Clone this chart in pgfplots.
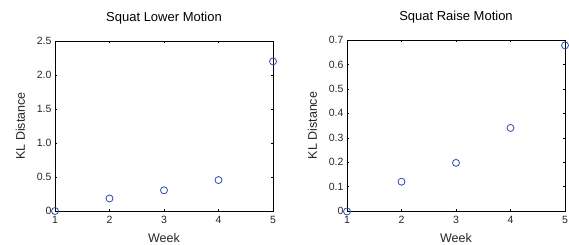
\documentclass[border=0pt]{standalone}
\usepackage{pgfplots}
\pgfplotsset{compat=1.18}
\usepackage{fontspec}
\setmainfont{Liberation Sans}
\definecolor{mblue}{RGB}{45,75,175}
\begin{document}
\begin{tikzpicture}
\path[use as bounding box] (0pt,0pt) rectangle (569pt,244pt);
\pgfplotsset{
  mystyle/.style={
    scale only axis,
    width=218pt,
    xmin=1, xmax=5,
    xtick={1,2,3,4,5},
    tick align=inside,
    major tick length=2pt,
    axis line style={line width=0.8pt},
    tick style={line width=0.4pt, black},
    clip=false,
    /pgf/number format/assume math mode=true,
    tick label style={font=\fontsize{10.5}{11}\selectfont, text=black!85},
    xticklabel style={yshift=-2pt},
    yticklabel style={xshift=0pt},
    label style={font=\fontsize{12.5}{13}\selectfont, text=black!85},
    title style={font=\fontsize{13}{14}\selectfont, yshift=7pt},
    xlabel={Week},
    ylabel={KL Distance},
    xlabel style={yshift=-5pt, inner sep=1pt},
    ylabel style={yshift=5pt},
  },
}
\begin{axis}[mystyle,
  at={(55pt,33pt)}, anchor=south west,
  height=170pt,
  ymin=0, ymax=2.5,
  ytick={0,0.5,1.0,1.5,2.0,2.5},
  yticklabels={0,0.5,1.0,1.5,2.0,2.5},
  title={Squat Lower Motion},
]
\addplot[only marks, mark=o, mark size=3.5pt, mblue, thick] coordinates {
(1,0.0) (2,0.185) (3,0.305) (4,0.455) (5,2.20)};
\end{axis}
\begin{axis}[mystyle,
  at={(347pt,33pt)}, anchor=south west,
  height=171pt,
  ymin=0, ymax=0.7,
  ytick={0,0.1,0.2,0.3,0.4,0.5,0.6,0.7},
  yticklabels={0,0.1,0.2,0.3,0.4,0.5,0.6,0.7},
  title={Squat Raise Motion},
]
\addplot[only marks, mark=o, mark size=3.5pt, mblue, thick] coordinates {
(1,-0.002) (2,0.12) (3,0.197) (4,0.34) (5,0.678)};
\end{axis}
\end{tikzpicture}
\end{document}
